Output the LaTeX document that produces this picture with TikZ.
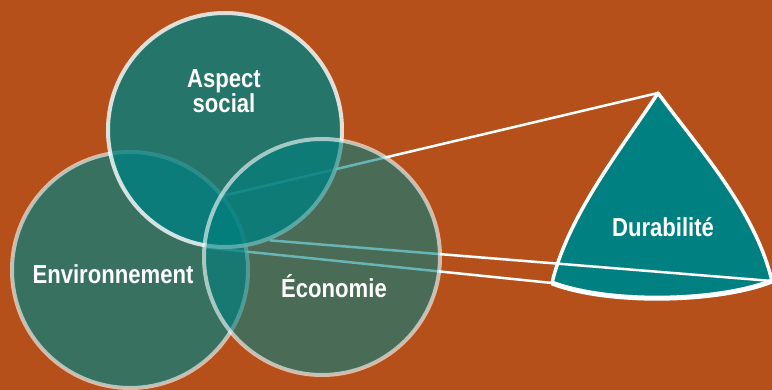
\documentclass[tikz,border=0pt]{standalone}
\usepackage{fontspec}
\usetikzlibrary{backgrounds}
\newfontfamily\lblfont[FakeStretch=0.85]{Liberation Sans}
\definecolor{rust}{RGB}{182,80,26}
\definecolor{tealc}{RGB}{0,128,128}

\begin{document}
\begin{tikzpicture}[x=1pt, y=-1pt,
    venn/.style={circle, inner sep=0pt, minimum size=236pt, fill=tealc, draw=white, line width=4pt},
    lbl/.style={text=white, font=\lblfont\bfseries\fontsize{26}{26}\selectfont, align=center},
    link/.style={draw=white, line width=2.5pt}]

    \useasboundingbox (0, 0) rectangle (772, 390);

    % les cercles
    \node [venn, fill opacity=0.69, draw opacity=0.6] (env) at (130, 270) {};
    \node [venn, fill opacity=0.79, draw opacity=0.8, minimum size=234pt] (social) at (225, 130) {};
    \node [venn, fill opacity=0.59, draw opacity=0.6] (eco) at (322, 257) {};

    % la durabilite
    \coordinate (top) at (658, 93);
    \coordinate (left) at (552, 283);
    \coordinate (right) at (772, 281);

    \begin{scope}[on background layer]
        \fill [rust] (0, 0) rectangle (772, 390);
        \filldraw [fill=tealc, draw=white, line width=3.5pt, line join=round]
            (top) .. controls (700, 150) and (755, 210) .. (right)
            .. controls (720, 302) and (610, 305) .. (left)
            .. controls (568, 215) and (622, 148) .. cycle;
        \draw [white, line width=5pt] (right) .. controls (720, 302) and (610, 305) .. (left);

        % les liens (sous les cercles)
        \draw [link] (eco.150) -- (top);
        \draw [link] (social.-68) -- (right);
        \draw [link] (social.-99) -- (left);
    \end{scope}

    \node [lbl] (lsocial) at (224, 91) {Aspect\\[-1pt]social};
    \node [lbl, anchor=base] (lenv) at (113, 284) {Environnement};
    \node [lbl, anchor=base] (leco) at (334, 298) {Économie};
    \node [lbl, anchor=base] (ldur) at (663, 237) {Durabilité};

\end{tikzpicture}
\end{document}
